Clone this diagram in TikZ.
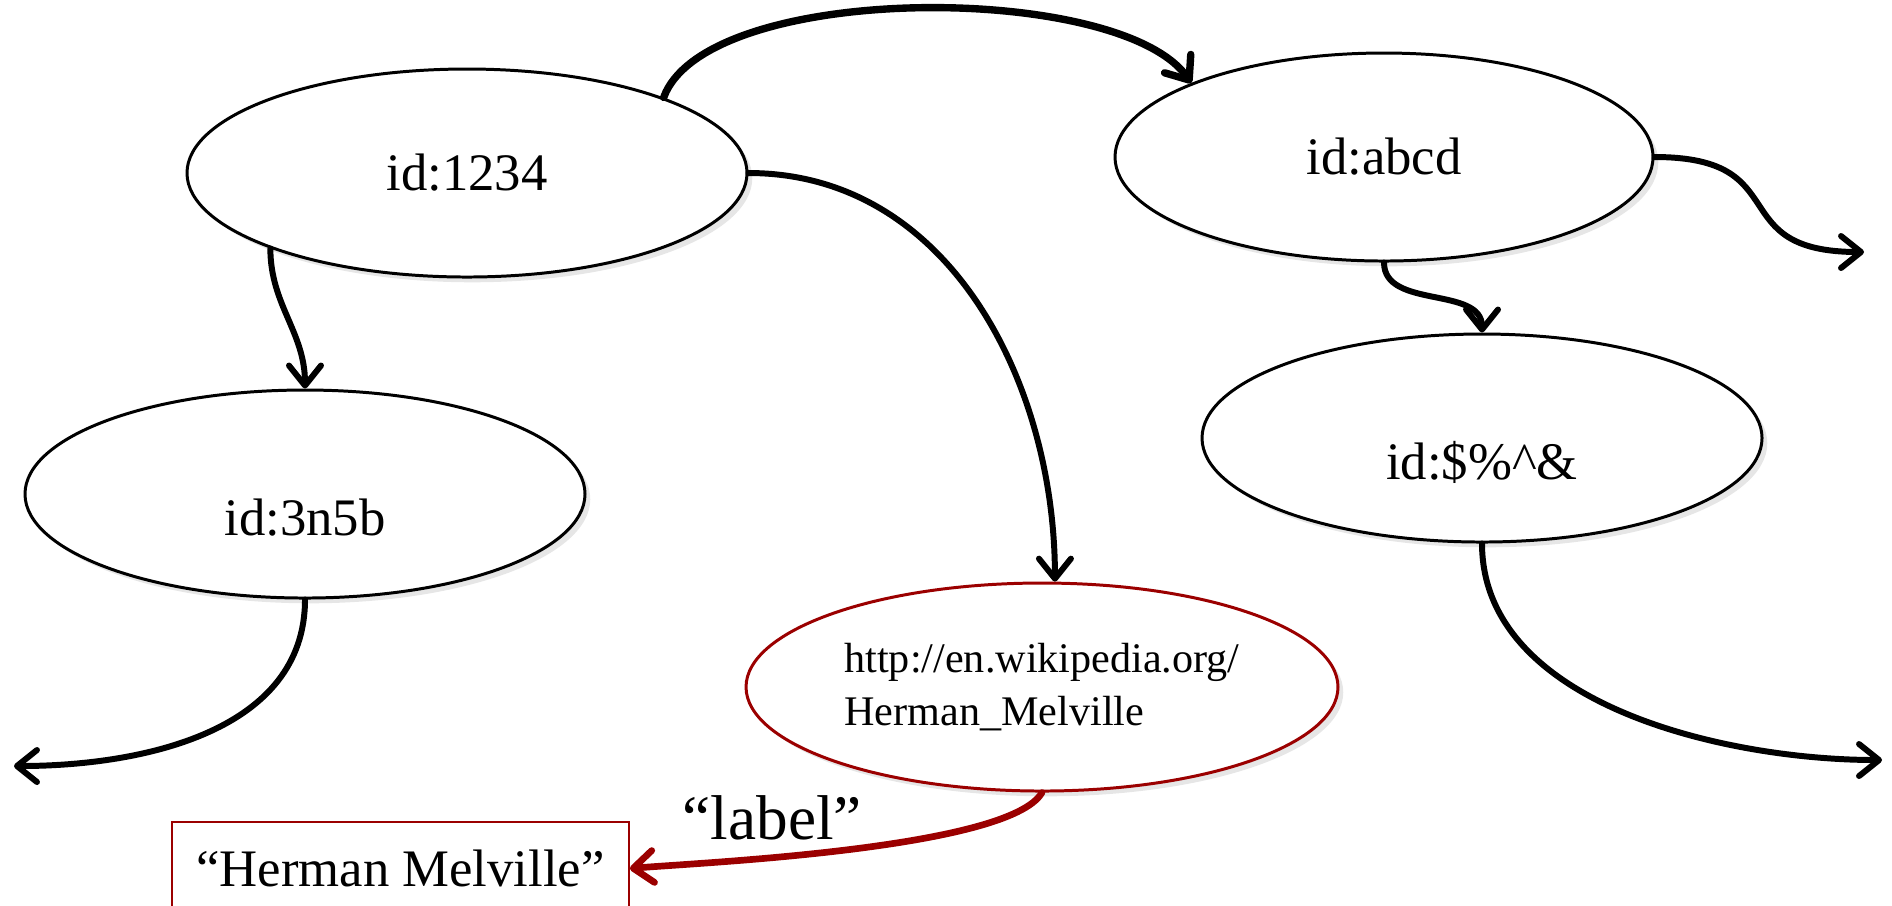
\documentclass[tikz,border=0pt]{standalone}
\usepackage{fontspec}
\setmainfont{Liberation Serif}
\usetikzlibrary{shapes.geometric,arrows.meta,shadows}
\definecolor{wikired}{RGB}{155,0,0}
\begin{document}
\begin{tikzpicture}[
  font=\fontsize{15}{18}\selectfont,
  res/.style={draw,ellipse,fill=white,line width=0.85pt,minimum width=5.6cm,minimum height=2.08cm,
    drop shadow={shadow xshift=1.5pt,shadow yshift=-1.5pt,opacity=0.2}},
  low/.style={text height=0.82cm,text depth=0pt},
  link/.style={line cap=round,-{Straight Barb[round,length=0.2cm,width=0.32cm]}}
]
\useasboundingbox (0,0) rectangle (18.92,-9.05);
\node[res] (A) at (4.67,-1.73) {id:1234};
\node[res,minimum width=5.38cm] (B) at (13.84,-1.57) {id:abcd};
\node[res,low] (C) at (3.05,-4.94) {id:3n5b};
\node[res,low] (D) at (14.82,-4.38) {id:\$\%\textasciicircum\&};
\node[res,draw=wikired,align=left,font=\fontsize{12}{15}\selectfont] (W) at (10.42,-6.87) {http://en.wikipedia.org/\\Herman\_Melville};
\node[draw=wikired,line width=0.5pt,minimum width=4.57cm,minimum height=0.93cm] (L) at (4.005,-8.685) {“Herman Melville”};
\coordinate (P) at (18.64,-2.52);
\coordinate (Q) at (18.82,-7.60);
\coordinate (R) at (0.14,-7.66);
\foreach \i/\j/\o/\n/\l/\w in {A.201/C.north/-90/90/1/1.7, A.21/B.159/70/125/0.6/2.1,
  A.east/W.83/0/90/1/1.7, B.east/P/0/180/1.6/1.7, B.south/D.north/-90/90/1/1.7,
  D.south/Q/-90/180/0.9/1.7, C.south/R/-90/0/1/1.7} {
  \draw[link,line width=\w pt] (\i) to[out=\o,in=\n,looseness=\l] (\j);
}
\draw[link,wikired,line width=1.9pt] (W.south) to[out=-120,in=5,looseness=0.4]
  node[above=3pt,pos=0.64,inner sep=1pt,text=black,font=\fontsize{18}{21}\selectfont]{“label”} (L.east);
\end{tikzpicture}
\end{document}
